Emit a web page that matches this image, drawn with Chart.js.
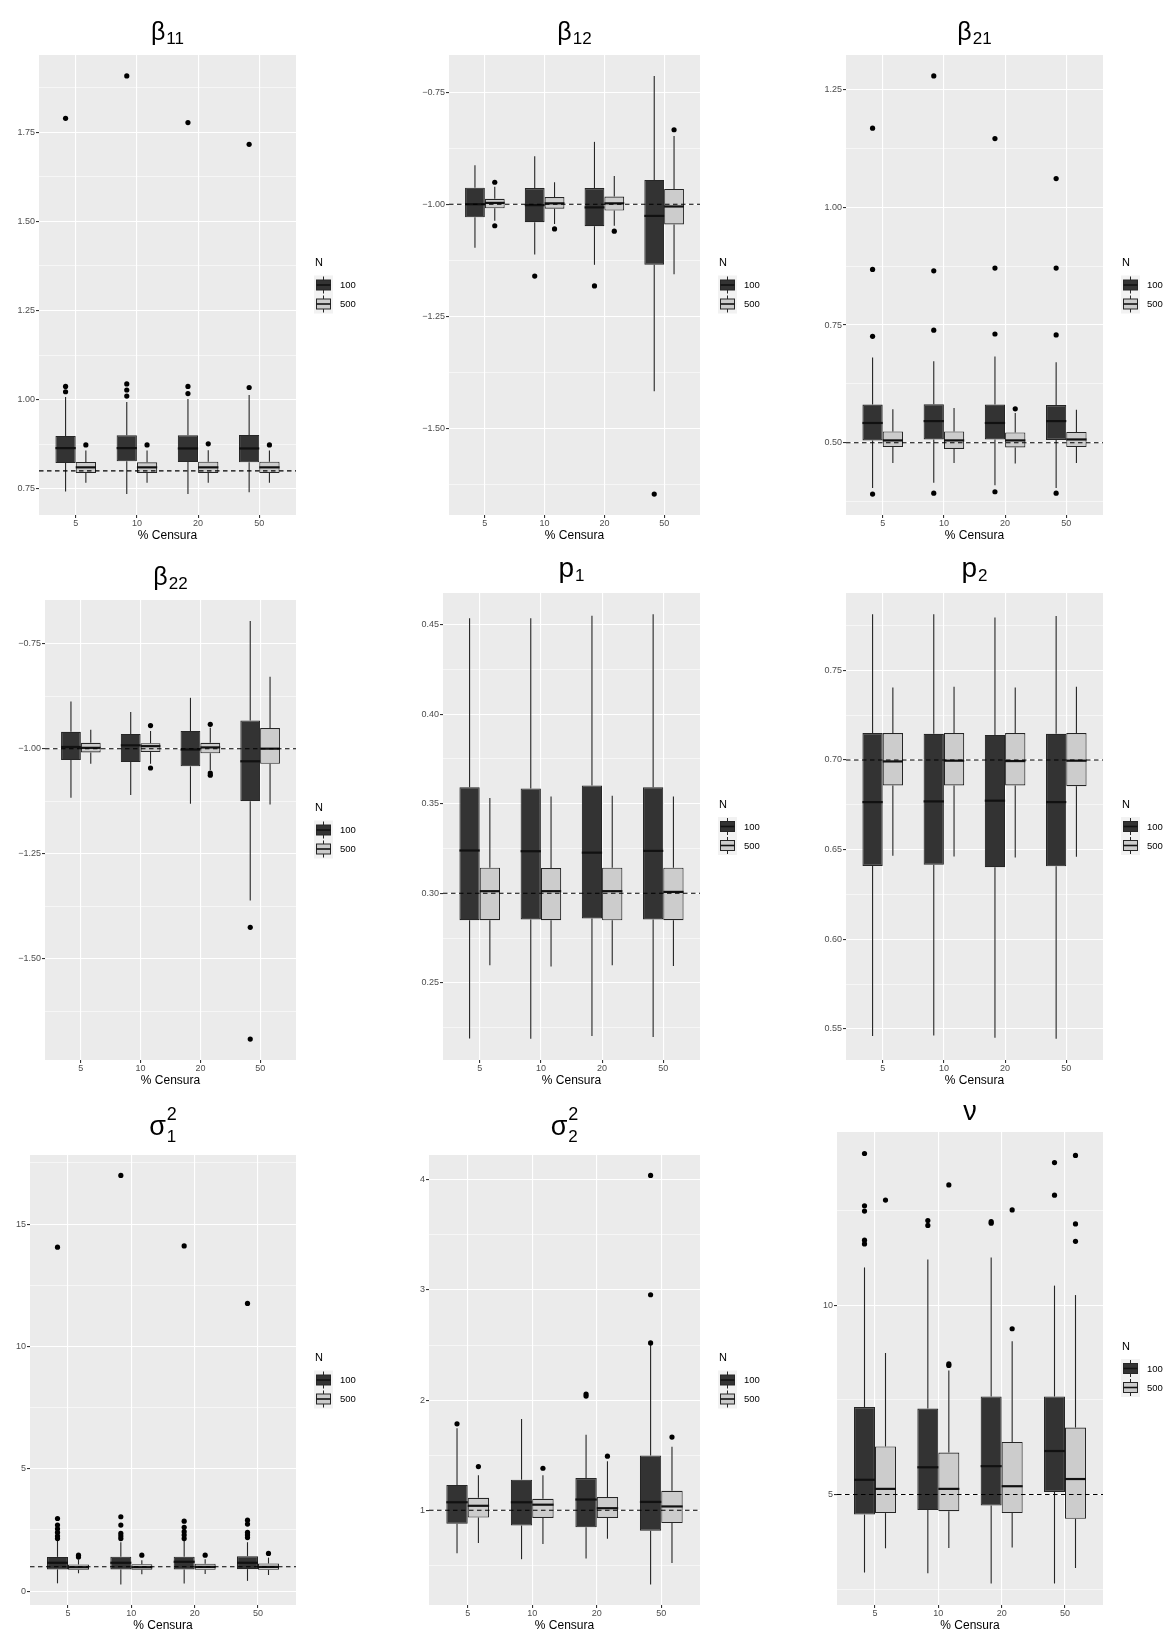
<!DOCTYPE html>
<html>
<head>
<meta charset="utf-8">
<script src="https://cdn.jsdelivr.net/npm/chart.js@4.4.1/dist/chart.umd.min.js"></script>
<style>
  html, body { margin: 0; padding: 0; background: #ffffff; }
  #page { position: relative; width: 1165px; height: 1634px; overflow: hidden; background: #ffffff; }
  #page canvas { position: absolute; }
</style>
</head>
<body>
<div id="page"></div>
<script>
// ---- data -------------------------------------------------------------
const censura = ['5', '10', '20', '50'];
const groups = ['100', '500'];
const xTitle = '% Censura';
const legendTitle = 'N';

// each box: [lower whisker, Q1, median, Q3, upper whisker], one per censura level
const b11_100 = [[0.742, 0.822, 0.864, 0.898, 1.007], [0.735, 0.827, 0.864, 0.900, 0.993], [0.735, 0.825, 0.863, 0.900, 1.002], [0.740, 0.824, 0.863, 0.901, 1.013]];
const b11_500 = [[0.767, 0.794, 0.810, 0.825, 0.857], [0.767, 0.794, 0.810, 0.824, 0.857], [0.767, 0.794, 0.810, 0.826, 0.858], [0.767, 0.794, 0.810, 0.826, 0.857]];
const b11_100_out = [[1.022, 1.037, 1.789], [1.010, 1.027, 1.044, 1.908], [1.017, 1.037, 1.777], [1.034, 1.716]];
const b11_500_out = [[0.873], [0.873], [0.876], [0.873]];

const b12_100 = [[-1.097, -1.029, -1.000, -0.963, -0.913], [-1.112, -1.040, -1.002, -0.964, -0.893], [-1.135, -1.049, -1.007, -0.964, -0.861], [-1.417, -1.135, -1.026, -0.946, -0.714]];
const b12_500 = [[-1.037, -1.009, -0.997, -0.988, -0.961], [-1.044, -1.010, -0.998, -0.984, -0.951], [-1.048, -1.014, -0.998, -0.983, -0.937], [-1.156, -1.045, -1.005, -0.966, -0.848]];
const b12_100_out = [[], [-1.160], [-1.182], [-1.646]];
const b12_500_out = [[-0.951, -1.048], [-1.055], [-1.060], [-0.834]];

const b21_100 = [[0.404, 0.505, 0.542, 0.581, 0.681], [0.415, 0.507, 0.546, 0.582, 0.673], [0.410, 0.507, 0.542, 0.581, 0.683], [0.404, 0.506, 0.546, 0.580, 0.671]];
const b21_500 = [[0.457, 0.491, 0.505, 0.524, 0.571], [0.457, 0.487, 0.505, 0.524, 0.574], [0.456, 0.490, 0.505, 0.522, 0.563], [0.457, 0.491, 0.507, 0.523, 0.570]];
const b21_100_out = [[0.391, 0.726, 0.868, 1.168], [0.393, 0.739, 0.865, 1.279], [0.396, 0.731, 0.871, 1.146], [0.393, 0.729, 0.871, 1.061]];
const b21_500_out = [[], [], [0.572], []];

const b22_100 = [[-1.117, -1.027, -0.996, -0.960, -0.888], [-1.110, -1.032, -0.992, -0.965, -0.913], [-1.131, -1.042, -1.002, -0.958, -0.879], [-1.361, -1.125, -1.030, -0.933, -0.696]];
const b22_500 = [[-1.036, -1.009, -0.998, -0.986, -0.955], [-1.036, -1.008, -0.994, -0.987, -0.958], [-1.051, -1.011, -0.997, -0.986, -0.950], [-1.133, -1.036, -1.000, -0.951, -0.829]];
const b22_100_out = [[], [], [], [-1.425, -1.691]];
const b22_500_out = [[], [-0.945, -1.046], [-0.942, -1.058, -1.063], []];

const p1_100 = [[0.2190, 0.2850, 0.3239, 0.3592, 0.4536], [0.2188, 0.2854, 0.3235, 0.3585, 0.4536], [0.2203, 0.2860, 0.3227, 0.3602, 0.4550], [0.2198, 0.2854, 0.3237, 0.3592, 0.4558]];
const p1_500 = [[0.2598, 0.2850, 0.3012, 0.3143, 0.3532], [0.2592, 0.2850, 0.3012, 0.3141, 0.3540], [0.2598, 0.2849, 0.3012, 0.3143, 0.3544], [0.2594, 0.2850, 0.3008, 0.3143, 0.3540]];
const p1_100_out = [[], [], [], []];
const p1_500_out = [[], [], [], []];

const p2_100 = [[0.5461, 0.6409, 0.6765, 0.7150, 0.7813], [0.5463, 0.6415, 0.6769, 0.7146, 0.7813], [0.5451, 0.6402, 0.6773, 0.7140, 0.7795], [0.5445, 0.6407, 0.6765, 0.7146, 0.7803]];
const p2_500 = [[0.6466, 0.6858, 0.6992, 0.7150, 0.7405], [0.6462, 0.6858, 0.6996, 0.7150, 0.7408], [0.6456, 0.6858, 0.6994, 0.7150, 0.7405], [0.6460, 0.6854, 0.6996, 0.7150, 0.7408]];
const p2_100_out = [[], [], [], []];
const p2_500_out = [[], [], [], []];

const s1_100 = [[0.32, 0.89, 1.16, 1.40, 2.08], [0.27, 0.89, 1.16, 1.41, 2.00], [0.31, 0.89, 1.20, 1.41, 2.05], [0.42, 0.90, 1.16, 1.43, 2.00]];
const s1_500 = [[0.73, 0.87, 0.98, 1.09, 1.30], [0.69, 0.87, 0.98, 1.10, 1.26], [0.70, 0.87, 0.99, 1.12, 1.30], [0.66, 0.87, 0.99, 1.13, 1.37]];
const s1_100_out = [[2.15, 2.25, 2.40, 2.55, 2.70, 2.97, 14.06], [2.15, 2.25, 2.36, 2.70, 3.04, 16.99], [2.15, 2.29, 2.43, 2.61, 2.86, 14.11], [2.19, 2.30, 2.40, 2.74, 2.90, 11.76]];
const s1_500_out = [[1.40, 1.47], [1.47], [1.47], [1.54]];

const s2_100 = [[0.610, 0.877, 1.073, 1.230, 1.744], [0.556, 0.862, 1.073, 1.278, 1.829], [0.562, 0.846, 1.098, 1.293, 1.687], [0.326, 0.815, 1.076, 1.498, 2.500]];
const s2_500 = [[0.704, 0.934, 1.041, 1.113, 1.319], [0.695, 0.931, 1.051, 1.104, 1.319], [0.742, 0.931, 1.019, 1.120, 1.445], [0.522, 0.884, 1.035, 1.177, 1.577]];
const s2_100_out = [[1.785], [], [2.037, 2.056], [2.520, 2.957, 4.040]];
const s2_500_out = [[1.397], [1.382], [1.491], [1.665]];

const nu_100 = [[2.94, 4.47, 5.39, 7.31, 11.00], [2.92, 4.59, 5.72, 7.27, 11.21], [2.65, 4.71, 5.75, 7.59, 11.26], [2.65, 5.07, 6.15, 7.59, 10.52]];
const nu_500 = [[3.58, 4.51, 5.15, 6.27, 8.74], [3.59, 4.56, 5.15, 6.11, 8.28], [3.60, 4.51, 5.22, 6.39, 9.05], [3.06, 4.36, 5.41, 6.77, 10.27]];
const nu_100_out = [[11.62, 11.72, 12.49, 12.63, 14.01], [12.11, 12.24], [12.17, 12.21], [12.91, 13.77]];
const nu_500_out = [[12.78], [8.41, 8.45, 13.18], [9.38, 12.52], [11.69, 12.15, 13.96]];

// true parameter values (dashed reference lines)
const trueValues = [0.8, -1, 0.5, -1, 0.3, 0.7, 1, 1, 5];

// y tick labels per panel
const b11Ticks = ['0.75', '1.00', '1.25', '1.50', '1.75'];
const b12Ticks = ['−1.50', '−1.25', '−1.00', '−0.75'];
const b21Ticks = ['0.50', '0.75', '1.00', '1.25'];
const b22Ticks = ['−1.50', '−1.25', '−1.00', '−0.75'];
const p1Ticks = ['0.25', '0.30', '0.35', '0.40', '0.45'];
const p2Ticks = ['0.55', '0.60', '0.65', '0.70', '0.75'];
const s1Ticks = ['0', '5', '10', '15'];
const s2Ticks = ['1', '2', '3', '4'];
const nuTicks = ['5', '10'];

// panel titles: symbol, subscript, superscript
const titles = [
  ['β', '11', ''], ['β', '12', ''], ['β', '21', ''],
  ['β', '22', ''], ['p', '1', ''], ['p', '2', ''],
  ['σ', '1', '2'], ['σ', '2', '2'], ['ν', '', '']
];

// ---- layout -----------------------------------------------------------
const FONT = '"Liberation Sans", Arial, Helvetica, sans-serif';
const COL_X = [0, 388, 776], COL_W = [388, 388, 389];
const ROW_Y = [0, 545, 1090], ROW_H = [545, 545, 544];
// plot panel [left, top, right, bottom] in page pixels
const panelBoxes = [
  [39, 55, 296, 515], [449, 55, 700, 515], [846, 55, 1103, 515],
  [45, 600, 296, 1060], [443, 593, 700, 1060], [846, 593, 1103, 1060],
  [30, 1155, 296, 1605], [429, 1155, 700, 1605], [837, 1132, 1103, 1605]
];
// title baseline distance above the panel, and symbol font size
const titleGap = [15, 15, 15, 15, 16, 16, 20, 20, 12];
const titleSize = [25, 25, 25, 25, 28, 28, 27, 27, 27];

const X_AXIS_H = 16;
const DARK = '#333333', LIGHT = '#CCCCCC', EDGE = '#262626';

const panels = [
  { s: [b11_100, b11_500], o: [b11_100_out, b11_500_out], ticks: b11Ticks },
  { s: [b12_100, b12_500], o: [b12_100_out, b12_500_out], ticks: b12Ticks },
  { s: [b21_100, b21_500], o: [b21_100_out, b21_500_out], ticks: b21Ticks },
  { s: [b22_100, b22_500], o: [b22_100_out, b22_500_out], ticks: b22Ticks },
  { s: [p1_100, p1_500], o: [p1_100_out, p1_500_out], ticks: p1Ticks },
  { s: [p2_100, p2_500], o: [p2_100_out, p2_500_out], ticks: p2Ticks },
  { s: [s1_100, s1_500], o: [s1_100_out, s1_500_out], ticks: s1Ticks },
  { s: [s2_100, s2_500], o: [s2_100_out, s2_500_out], ticks: s2Ticks },
  { s: [nu_100, nu_500], o: [nu_100_out, nu_500_out], ticks: nuTicks }
];

// ---- drawing helpers ------------------------------------------------------
function line(ctx, x1, y1, x2, y2) {
  ctx.beginPath(); ctx.moveTo(x1, y1); ctx.lineTo(x2, y2); ctx.stroke();
}

function drawTitle(ctx, area, t, gap, size) {
  const base = area.top - gap;
  const [main, sub, sup] = t;
  ctx.save();
  ctx.fillStyle = '#000000';
  ctx.textBaseline = 'alphabetic';
  ctx.textAlign = 'left';
  ctx.font = size + 'px ' + FONT;
  const wm = ctx.measureText(main).width;
  ctx.font = '17px ' + FONT;
  const ws = sub ? ctx.measureText(sub).width : 0;
  ctx.font = '18px ' + FONT;
  const wp = sup ? ctx.measureText(sup).width : 0;
  const extra = Math.max(ws, wp);
  const total = wm + (extra ? extra + 1 : 0);
  const x = (area.left + area.right) / 2 - total / 2;
  ctx.font = size + 'px ' + FONT;
  ctx.fillText(main, x, base);
  if (sub) {
    ctx.font = '17px ' + FONT;
    ctx.fillText(sub, x + wm + 1, base + (sup ? 7 : 4));
  }
  if (sup) {
    ctx.font = '18px ' + FONT;
    ctx.fillText(sup, x + wm + 1, base - 15);
  }
  ctx.restore();
}

function drawLegend(ctx, area) {
  const mid = (area.top + area.bottom) / 2;
  const x0 = area.right + 18;
  const kh = 19;
  ctx.save();
  ctx.fillStyle = '#000000';
  ctx.font = '11px ' + FONT;
  ctx.textBaseline = 'middle';
  ctx.textAlign = 'left';
  ctx.fillText(legendTitle, x0 + 1, mid - 22);
  ctx.fillStyle = '#F2F2F2';
  ctx.fillRect(x0, mid - kh / 2, 19, kh * 2);
  [DARK, LIGHT].forEach((fill, i) => {
    const cy = mid + i * kh;
    ctx.strokeStyle = EDGE;
    ctx.lineWidth = 1;
    line(ctx, x0 + 9.5, cy - 8.5, x0 + 9.5, cy + 8.5);
    ctx.fillStyle = fill;
    ctx.fillRect(x0 + 2, cy - 5, 15, 10);
    ctx.strokeRect(x0 + 2.5, cy - 5, 14, 10);
    ctx.lineWidth = 1.6;
    ctx.strokeStyle = '#111111';
    line(ctx, x0 + 2.5, cy, x0 + 16.5, cy);
    ctx.fillStyle = '#000000';
    ctx.font = '9.5px ' + FONT;
    ctx.fillText(groups[i], x0 + 26, cy + 0.5);
  });
  ctx.restore();
}

const boxExtras = {
  id: 'boxExtras',
  beforeDraw(chart) {
    const a = chart.chartArea, ctx = chart.ctx;
    ctx.save();
    ctx.fillStyle = '#EBEBEB';
    ctx.fillRect(a.left, a.top, a.right - a.left, a.bottom - a.top);
    ctx.restore();
  },
  beforeDatasetsDraw(chart) {
    // whiskers sit under the boxes
    const cfg = chart.options.plugins.boxExtras;
    const y = chart.scales.y, ctx = chart.ctx;
    ctx.save();
    ctx.strokeStyle = EDGE;
    ctx.lineWidth = 1.1;
    cfg.stats.forEach((series, di) => {
      const meta = chart.getDatasetMeta(di);
      meta.data.forEach((bar, i) => {
        const [lo, q1, , q3, hi] = series[i];
        line(ctx, bar.x, y.getPixelForValue(q3), bar.x, y.getPixelForValue(hi));
        line(ctx, bar.x, y.getPixelForValue(q1), bar.x, y.getPixelForValue(lo));
      });
    });
    ctx.restore();
  },
  afterDatasetsDraw(chart) {
    const cfg = chart.options.plugins.boxExtras;
    const y = chart.scales.y, ctx = chart.ctx, a = chart.chartArea;
    ctx.save();
    cfg.stats.forEach((series, di) => {
      const meta = chart.getDatasetMeta(di);
      meta.data.forEach((bar, i) => {
        const med = series[i][2];
        const py = y.getPixelForValue(med);
        ctx.strokeStyle = '#111111';
        ctx.lineWidth = 2.2;
        line(ctx, bar.x - bar.width / 2, py, bar.x + bar.width / 2, py);
        ctx.fillStyle = '#000000';
        cfg.outliers[di][i].forEach(v => {
          ctx.beginPath();
          ctx.arc(bar.x, y.getPixelForValue(v), 2.6, 0, Math.PI * 2);
          ctx.fill();
        });
      });
    });
    // dashed reference line at the true value
    const ry = y.getPixelForValue(cfg.ref);
    ctx.strokeStyle = '#000000';
    ctx.lineWidth = 1.1;
    ctx.setLineDash([4.5, 3.5]);
    line(ctx, a.left, ry, a.right, ry);
    ctx.setLineDash([]);
    ctx.restore();
  },
  afterDraw(chart) {
    const cfg = chart.options.plugins.boxExtras;
    const ctx = chart.ctx, a = chart.chartArea;
    drawTitle(ctx, a, cfg.title, cfg.titleGap, cfg.titleSize);
    ctx.save();
    ctx.fillStyle = '#000000';
    ctx.font = '12px ' + FONT;
    ctx.textAlign = 'center';
    ctx.textBaseline = 'middle';
    ctx.fillText(xTitle, (a.left + a.right) / 2, a.bottom + 21);
    ctx.restore();
    drawLegend(ctx, a);
  }
};

// ---- charts -------------------------------------------------------------
const page = document.getElementById('page');

panels.forEach((p, k) => {
  const col = k % 3, row = Math.floor(k / 3);
  const cx = COL_X[col], cy = ROW_Y[row], cw = COL_W[col], ch = ROW_H[row];
  const [L, T, R, B] = panelBoxes[k];
  const yAxisW = L - cx;

  const canvas = document.createElement('canvas');
  canvas.width = cw; canvas.height = ch;
  canvas.style.left = cx + 'px'; canvas.style.top = cy + 'px';
  canvas.style.width = cw + 'px'; canvas.style.height = ch + 'px';
  page.appendChild(canvas);

  // y range: data extent expanded by 5% on each side
  const vals = [trueValues[k]];
  p.s.forEach(series => series.forEach(b => vals.push(...b)));
  p.o.forEach(series => series.forEach(o => vals.push(...o)));
  const lo = Math.min(...vals), hi = Math.max(...vals), pad = (hi - lo) * 0.05;
  const yMin = lo - pad, yMax = hi + pad;

  const majors = p.ticks.map(s => ({ label: s, value: parseFloat(s.replace('−', '-')) }));
  const step = majors[1].value - majors[0].value;
  const tickList = [];
  majors.forEach(m => {
    const mn = m.value - step / 2;
    if (mn >= yMin && mn <= yMax) tickList.push({ value: mn, major: false });
    if (m.value >= yMin && m.value <= yMax) tickList.push({ value: m.value, major: true });
  });
  const lastMinor = majors[majors.length - 1].value + step / 2;
  if (lastMinor <= yMax) tickList.push({ value: lastMinor, major: false });

  const labelFor = v => {
    const m = majors.find(mm => Math.abs(mm.value - v) < 1e-9);
    return m ? m.label : '';
  };
  const isMajor = v => majors.some(mm => Math.abs(mm.value - v) < 1e-9);

  new Chart(canvas, {
    type: 'bar',
    data: {
      datasets: p.s.map((series, di) => ({
        label: groups[di],
        data: series.map((b, i) => ({ x: i, y: [b[1], b[3]] })),
        backgroundColor: di === 0 ? DARK : LIGHT,
        borderColor: EDGE,
        borderWidth: 1.1,
        borderSkipped: false,
        categoryPercentage: 0.663,
        barPercentage: 1.0
      }))
    },
    options: {
      responsive: false,
      animation: false,
      devicePixelRatio: 1,
      events: [],
      layout: {
        padding: {
          left: 0,
          top: T - cy,
          right: cx + cw - R,
          bottom: cy + ch - B - X_AXIS_H
        }
      },
      scales: {
        x: {
          type: 'linear',
          min: -0.6,
          max: 3.6,
          offset: false,
          afterBuildTicks: sc => { sc.ticks = censura.map((c, i) => ({ value: i })); },
          afterFit: sc => { sc.height = X_AXIS_H; },
          ticks: {
            autoSkip: false,
            maxRotation: 0,
            padding: 0,
            color: '#4D4D4D',
            font: { family: FONT, size: 9 },
            callback: v => censura[v]
          },
          grid: {
            offset: false,
            color: '#FFFFFF',
            lineWidth: 1.1,
            drawTicks: true,
            tickLength: 3,
            tickColor: '#333333'
          },
          border: { display: false }
        },
        y: {
          type: 'linear',
          min: yMin,
          max: yMax,
          afterBuildTicks: sc => { sc.ticks = tickList.map(t => ({ value: t.value })); },
          afterFit: sc => { sc.width = yAxisW; },
          ticks: {
            autoSkip: false,
            padding: 1,
            color: '#4D4D4D',
            font: { family: FONT, size: 9 },
            callback: v => labelFor(v)
          },
          grid: {
            color: '#FFFFFF',
            lineWidth: c => (c.tick && isMajor(c.tick.value) ? 1.1 : 0.55),
            drawTicks: true,
            tickLength: 3,
            tickColor: c => (c.tick && isMajor(c.tick.value) ? '#333333' : 'rgba(0,0,0,0)')
          },
          border: { display: false }
        }
      },
      plugins: {
        legend: { display: false },
        tooltip: { enabled: false },
        title: { display: false },
        boxExtras: {
          stats: p.s,
          outliers: p.o,
          ref: trueValues[k],
          title: titles[k],
          titleGap: titleGap[k],
          titleSize: titleSize[k]
        }
      }
    },
    plugins: [boxExtras]
  });
});
</script>
</body>
</html>
